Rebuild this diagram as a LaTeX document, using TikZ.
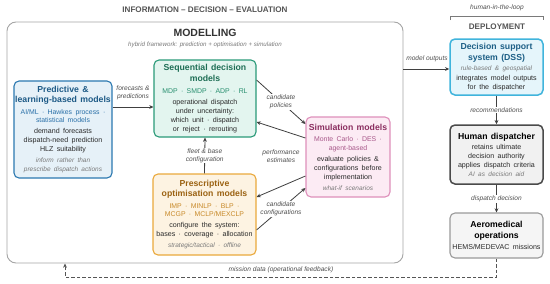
\documentclass[tikz,border=0pt]{standalone}
\usepackage{fontspec}
\setmainfont{Liberation Sans}
\usetikzlibrary{arrows.meta}
\definecolor{predb}{HTML}{2B78B0}\definecolor{predf}{HTML}{E6F1F8}\definecolor{predt}{HTML}{1D5A86}\definecolor{predm}{HTML}{2A70A8}
\definecolor{seqb}{HTML}{2A9A78}\definecolor{seqf}{HTML}{E3F5EF}\definecolor{seqt}{HTML}{1E6E55}\definecolor{seqm}{HTML}{2A9070}
\definecolor{simb}{HTML}{DE8FBA}\definecolor{simf}{HTML}{FCEBF4}\definecolor{simt}{HTML}{8B2E60}\definecolor{simm}{HTML}{A8588A}
\definecolor{preb}{HTML}{EAA93C}\definecolor{pref}{HTML}{FDF3E2}\definecolor{pret}{HTML}{9B6212}\definecolor{prem}{HTML}{C88A2A}
\definecolor{dssb}{HTML}{40B4DC}\definecolor{dssf}{HTML}{E5F5FB}\definecolor{dsst}{HTML}{1D5F86}
\definecolor{humb}{HTML}{4A4A4A}\definecolor{humf}{HTML}{F1F1F1}
\definecolor{aerb}{HTML}{9A9A9A}\definecolor{aerf}{HTML}{F5F5F5}
\definecolor{bodyc}{HTML}{2A2A2A}\definecolor{itc}{HTML}{7A7A7A}\definecolor{lblc}{HTML}{505050}
\definecolor{linec}{HTML}{404040}\definecolor{headc}{HTML}{555555}
\newcommand\Ttl[2]{{\centering\color{#1}\fontsize{8.7}{10.8}\selectfont\bfseries #2\par}}
\newcommand\Mth[2]{\vspace{3pt}{\centering\color{#1}\fontsize{6.9}{8.5}\selectfont #2\par}}
\newcommand\Bdy[2][2pt]{\vspace{#1}{\centering\color{bodyc}\fontsize{7.1}{9}\selectfont #2\par}}
\newcommand\Itl[2][2pt]{\vspace{#1}{\centering\color{itc}\fontsize{6.5}{9}\selectfont\itshape #2\par}}
\tikzset{
  box/.style={rounded corners=5pt, line width=1.1pt, align=center, inner xsep=1pt, inner ysep=0pt},
  arr/.style={draw=linec, line width=0.8pt, -{Stealth[length=4.2pt,width=3.8pt]}},
  lbl/.style={font=\fontsize{6.6}{7.8}\selectfont\itshape, text=lblc, align=center, inner sep=1pt},
  wlbl/.style={lbl, fill=white},
  fb/.style={draw=headc, line width=0.9pt, dash pattern=on 3.5pt off 2pt, -{Stealth[length=4.2pt,width=3.8pt]}}
}
\begin{document}
\begin{tikzpicture}[x=1pt,y=-1pt]
\useasboundingbox[fill=white] (0,0) rectangle (550,284);
% headers
\node[font=\fontsize{8.1}{9}\selectfont\bfseries, text=headc] (hdr) at (205,10) {INFORMATION – DECISION – EVALUATION};
\node[font=\fontsize{6.6}{8}\selectfont\itshape, text=lblc] (hitl) at (497,8) {human-in-the-loop};
\coordinate (brl) at (450,20); \coordinate (brr) at (543,20);
\draw[draw=itc, line width=0.7pt] (brl) -- ++(0,-4) -- ([yshift=4pt]brr) -- (brr);
\node[font=\fontsize{8.1}{9}\selectfont\bfseries, text=headc] (dep) at (497,27) {DEPLOYMENT};
% modelling frame
\node[draw=black!35, line width=0.9pt, rounded corners=9pt, minimum width=396, minimum height=241, fill=white] (model) at (205,142.5) {};
\node[font=\fontsize{10.5}{12}\selectfont\bfseries, text=black!80] (mtitle) at (205,33) {MODELLING};
\node[font=\fontsize{6.2}{7}\selectfont\itshape, text=itc] (msub) at (205,45) {hybrid framework: prediction + optimisation + simulation};
% boxes
\node[box, draw=predb, fill=predf, text width=96, minimum height=97] (pred) at (63,129.5)
 {\Ttl{predt}{Predictive \&\\learning-based models}\Mth{predm}{AI/ML · Hawkes process ·\\statistical models}\Bdy{demand forecasts\\dispatch-need prediction\\HLZ suitability}\Itl{inform rather than\\prescribe dispatch actions}};
\node[box, draw=seqb, fill=seqf, text width=100, minimum height=77] (seq) at (205,98.5)
 {\Ttl{seqt}{Sequential decision\\models}\Mth{seqm}{MDP · SMDP · ADP · RL}\Bdy{operational dispatch\\under uncertainty:\\which unit · dispatch\\or reject · rerouting}};
\node[box, draw=simb, fill=simf, text width=82, minimum height=80] (sim) at (348,157)
 {\Ttl{simt}{Simulation models}\Mth{simm}{Monte Carlo · DES ·\\agent-based}\Bdy{evaluate policies \&\\configurations before\\implementation}\Itl{what-if scenarios}};
\node[box, draw=preb, fill=pref, text width=101, minimum height=81] (presc) at (204.5,214.5)
 {\Ttl{pret}{Prescriptive\\optimisation models}\Mth{prem}{IMP · MINLP · BLP ·\\MCGP · MCLP/MEXCLP}\Bdy{configure the system:\\bases · coverage · allocation}\Itl{strategic/tactical · offline}};
\node[box, draw=dssb, fill=dssf, line width=1.5pt, text width=91, minimum height=56] (dss) at (496.5,67)
 {\Ttl{dsst}{Decision support\\system (DSS)}\Itl[1pt]{rule-based \& geospatial}\Bdy[1pt]{integrates model outputs\\for the dispatcher}};
\node[box, draw=humb, fill=humf, line width=1.5pt, text width=91, minimum height=59] (hum) at (496.5,154.5)
 {\Ttl{black}{Human dispatcher}\Bdy[1pt]{retains ultimate\\decision authority\\applies dispatch criteria}\Itl[0pt]{AI as decision aid}};
\node[box, draw=aerb, fill=aerf, line width=1.1pt, text width=91, minimum height=45] (aero) at (496.5,235.5)
 {\Ttl{black}{Aeromedical\\operations}\Bdy[2pt]{HEMS/MEDEVAC missions}};
% connectors inside modelling
\draw[arr] ([yshift=22.5pt]pred.east) -- ([yshift=-8.5pt]seq.west);
\node[lbl] (fcl) at (133,93) {forecasts \&\\predictions};
\draw[arr] ([yshift=18.5pt]seq.east) -- node[wlbl] (cpl) {candidate\\policies} ([yshift=33pt]sim.west);
\draw[arr] ([yshift=19pt]sim.west) -- ([yshift=-23.5pt]seq.east);
\draw[arr] ([yshift=-19pt]sim.west) -- ([yshift=17.5pt]presc.east);
\node[lbl] (pel) at (281,156) {performance\\estimates};
\draw[arr] ([yshift=-15.5pt]presc.east) -- node[wlbl] (ccl) {candidate\\configurations} ([yshift=-31pt]sim.west);
\draw[arr] (presc.north) -- node[wlbl] (fbl) {fleet \& base\\configuration} (seq.south);
% deployment connectors
\coordinate (mo) at ([yshift=-2pt]dss.west);
\draw[arr] (model.east|-mo) -- (mo);
\node[lbl] (mol) at (427,59) {model outputs};
\draw[arr] (dss.south) -- node[wlbl] (rcl) {recommendations} (hum.north);
\draw[arr] (hum.south) -- node[wlbl] (ddl) {dispatch decision} (aero.north);
% feedback
\coordinate (fbbot) at (0,277);
\coordinate (fbend) at (65,263.5);
\draw[fb] (aero.south) -- (aero.south|-fbbot) -| (fbend);
\node[lbl] (mdl) at (281,270) {mission data (operational feedback)};
\end{tikzpicture}
\end{document}
